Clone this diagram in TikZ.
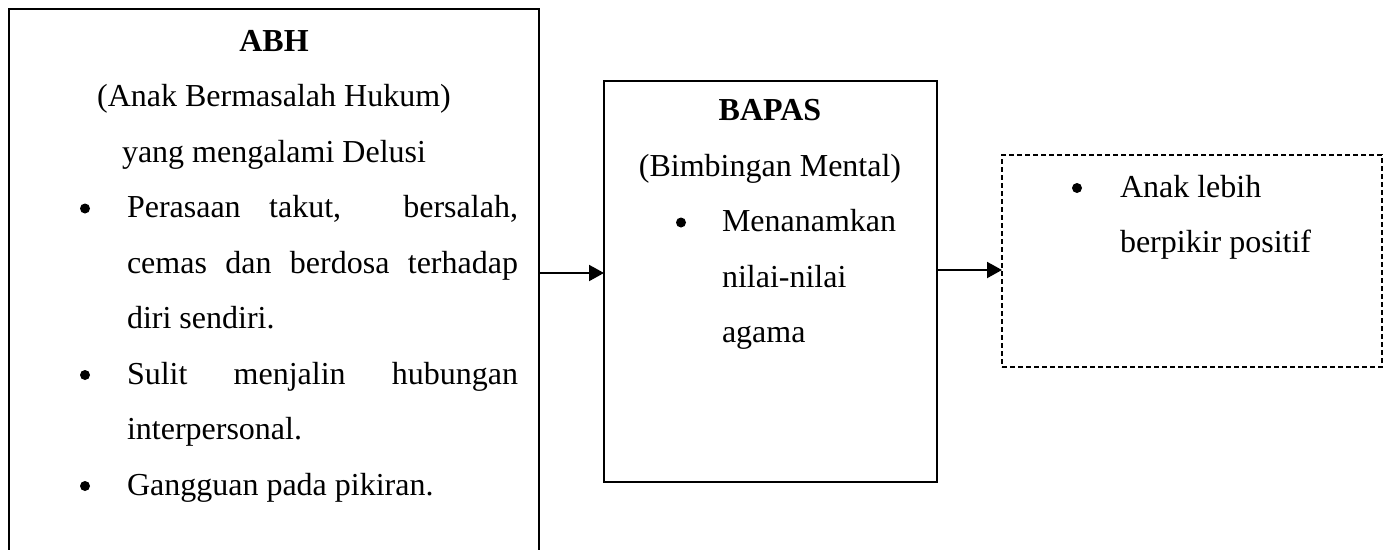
\documentclass[tikz,border=0pt]{standalone}
\usepackage{fontspec}
\setmainfont{Liberation Serif}
\usetikzlibrary{arrows.meta}
\begin{document}
\begin{tikzpicture}[x=1pt,y=-1pt,
  box/.style={draw,line width=2pt,inner sep=0pt,outer sep=0pt,anchor=north west},
  dbox/.style={draw,line width=1.3pt,dash pattern=on 5pt off 3pt,inner sep=0pt,outer sep=0pt,anchor=north west},
  txt/.style={inner sep=0pt,outer sep=0pt,anchor=base west,font=\fontsize{32}{40}\selectfont},
  ctxt/.style={txt,anchor=base},
  btxt/.style={ctxt,font=\fontsize{32}{40}\selectfont\bfseries},
  bul/.style={circle,fill=black,inner sep=0pt,outer sep=0pt,minimum size=10pt},
  arr/.style={line width=2pt,-{Triangle[length=15pt,width=16pt]}}]
\useasboundingbox (0,0) rectangle (1384,549);
\clip (0,0) rectangle (1384,549);
% boxes
\node[box,minimum width=530.5pt,minimum height=600pt] (abh) at (8.5,8.5) {};
\node[box,minimum width=333pt,minimum height=401pt] (bapas) at (604,81) {};
\node[dbox,minimum width=380pt,minimum height=212pt] (out) at (1002,155) {};
% left box text
\node[btxt] (h1) at (274,51) {ABH};
\node[ctxt] (h2) at (274,106.5) {(Anak Bermasalah Hukum)};
\node[ctxt] (h3) at (274,162) {yang mengalami Delusi};
\node[bul] (b1) at (85,208.5) {};
\node[txt] (l1) at (127,217.5) {\makebox[391pt][s]{Perasaan takut, \ bersalah,}};
\node[txt] (l2) at (127,273) {\makebox[391pt][s]{cemas dan berdosa terhadap}};
\node[txt] (l3) at (127,328.5) {diri sendiri.};
\node[bul] (b2) at (85,375) {};
\node[txt] (l4) at (127,384) {\makebox[391pt][s]{Sulit menjalin hubungan}};
\node[txt] (l5) at (127,439.5) {interpersonal.};
\node[bul] (b3) at (85,486) {};
\node[txt] (l6) at (127,495) {Gangguan pada pikiran.};
% middle box text
\node[btxt] (m1) at (770,120.5) {BAPAS};
\node[ctxt] (m2) at (770,176) {(Bimbingan Mental)};
\node[bul] (b4) at (681,222.5) {};
\node[txt] (m3) at (722,231.5) {Menanamkan};
\node[txt] (m4) at (722,287) {nilai-nilai};
\node[txt] (m5) at (722,342.5) {agama};
% right box text
\node[bul] (b5) at (1077,188) {};
\node[txt] (r1) at (1120,197) {Anak lebih};
\node[txt] (r2) at (1120,252.5) {berpikir positif};
% arrows
\draw[arr] (abh.east |- 0,273) -- (bapas.west |- 0,273);
\draw[arr] (bapas.east |- 0,270) -- (out.west |- 0,270);
\end{tikzpicture}
\end{document}
